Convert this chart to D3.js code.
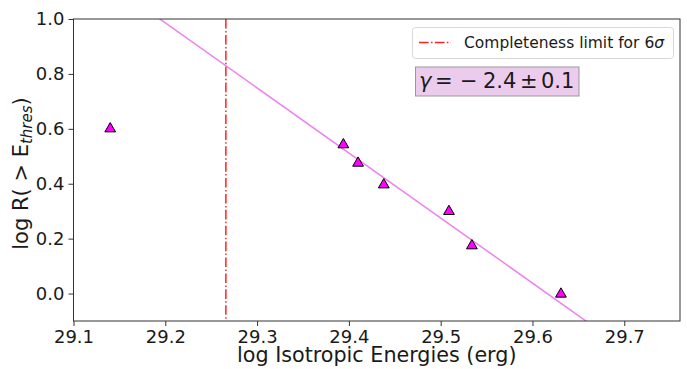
<!DOCTYPE html>
<html><head><meta charset="utf-8">
<script src="https://cdn.jsdelivr.net/npm/d3@7"></script>
<style>body{margin:0;background:#fff}svg{display:block}text{font-family:"DejaVu Sans",sans-serif}</style>
</head><body>
<script>
const energies = [29.140, 29.394, 29.410, 29.438, 29.509, 29.534, 29.631];
const logR = [0.602, 0.544, 0.477, 0.398, 0.301, 0.176, 0.0];
const fitSlope = -2.37;
const fitIntercept = 70.19;
const fitRange = [29.1, 29.76];
const completenessLimit = 29.266;
const xTicks = [29.1, 29.2, 29.3, 29.4, 29.5, 29.6, 29.7];
const yTicks = [0.0, 0.2, 0.4, 0.6, 0.8, 1.0];
const legendLabel = "Completeness limit for 6";

const W = 687, H = 369;
const m = {l: 73.5, r: 687-680, t: 19, b: 369-321};
const svg = d3.select("body").append("svg").attr("width", W).attr("height", H);
const x = d3.scaleLinear().domain([29.1, 29.7607]).range([m.l, W - m.r]);
const y = d3.scaleLinear().domain([-0.1, 1.0]).range([H - m.b, m.t]);

svg.append("clipPath").attr("id", "clip").append("rect")
  .attr("x", m.l).attr("y", m.t).attr("width", W - m.r - m.l).attr("height", H - m.b - m.t);

const g = svg.append("g").attr("clip-path", "url(#clip)");
g.append("line")
  .attr("x1", x(fitRange[0])).attr("y1", y(fitIntercept + fitSlope * fitRange[0]))
  .attr("x2", x(fitRange[1])).attr("y2", y(fitIntercept + fitSlope * fitRange[1]))
  .attr("stroke", "#ee82ee").attr("stroke-width", 1.5);
g.append("line")
  .attr("x1", x(completenessLimit)).attr("x2", x(completenessLimit))
  .attr("y1", m.t).attr("y2", H - m.b)
  .attr("stroke", "#ff2020").attr("stroke-width", 1.5)
  .attr("stroke-dasharray", "9.6,2.4,1.5,2.4");
const tri = d3.symbol().type(d3.symbolTriangle).size(50);
svg.append("g").selectAll("path").data(energies).join("path")
  .attr("d", tri)
  .attr("transform", (d, i) => `translate(${x(d)},${y(logR[i]) + 0.5})`)
  .attr("fill", "#ff00ff").attr("stroke", "#000").attr("stroke-width", 1);

const xAxis = d3.axisBottom(x).tickValues(xTicks).tickFormat(d3.format(".1f")).tickSize(5).tickPadding(4);
const yAxis = d3.axisLeft(y).tickValues(yTicks).tickFormat(d3.format(".1f")).tickSize(5).tickPadding(4);
const gx = svg.append("g").attr("transform", `translate(0,${H - m.b})`).call(xAxis);
const gy = svg.append("g").attr("transform", `translate(${m.l},0)`).call(yAxis);
[gx, gy].forEach(a => {
  a.select(".domain").remove();
  a.selectAll("line").attr("stroke", "#333").attr("stroke-width", 1);
  a.selectAll("text").attr("font-size", 18).attr("fill", "#1a1a1a").attr("font-family", "DejaVu Sans");
});
svg.append("rect").attr("x", m.l).attr("y", m.t).attr("width", W - m.r - m.l).attr("height", H - m.b - m.t)
  .attr("fill", "none").attr("stroke", "#333").attr("stroke-width", 1);

svg.append("text").attr("x", (m.l + W - m.r) / 2).attr("y", 362).attr("text-anchor", "middle")
  .attr("font-size", 20.7).attr("fill", "#1a1a1a").text("log Isotropic Energies (erg)");
const yl = svg.append("text").attr("transform", `translate(27.5,173.5) rotate(-90)`)
  .attr("text-anchor", "middle").attr("font-size", 21).attr("fill", "#1a1a1a");
yl.append("tspan").text("log R( > E");
yl.append("tspan").attr("font-size", 15).attr("font-style", "italic").attr("dy", 4).text("thres");
yl.append("tspan").attr("dy", -4).text(")");

svg.append("rect").attr("x", 412.5).attr("y", 27.5).attr("width", 261).attr("height", 31).attr("rx", 3)
  .attr("fill", "#fff").attr("stroke", "#d8d8d8").attr("stroke-width", 1);
svg.append("line").attr("x1", 419).attr("x2", 451).attr("y1", 42.5).attr("y2", 42.5)
  .attr("stroke", "#ff2020").attr("stroke-width", 1.5).attr("stroke-dasharray", "9.6,2.4,1.5,2.4");
const lt = svg.append("text").attr("x", 464).attr("y", 48).attr("font-size", 15.5).attr("fill", "#1a1a1a");
lt.append("tspan").text(legendLabel);
lt.append("tspan").attr("font-style", "italic").text("σ");

svg.append("rect").attr("x", 415.5).attr("y", 67).attr("width", 163.5).attr("height", 29)
  .attr("fill", "#ecccec").attr("stroke", "#999").attr("stroke-width", 1);
const gt = svg.append("text").attr("y", 88).attr("font-size", 21).attr("fill", "#1a1a1a");
gt.append("tspan").attr("x", 419).attr("font-style", "italic").text("γ");
gt.append("tspan").attr("x", 435).text("=");
gt.append("tspan").attr("x", 460).text("−");
gt.append("tspan").attr("x", 483).text("2.4");
gt.append("tspan").attr("x", 520).text("±");
gt.append("tspan").attr("x", 541).text("0.1");
</script>
</body></html>
